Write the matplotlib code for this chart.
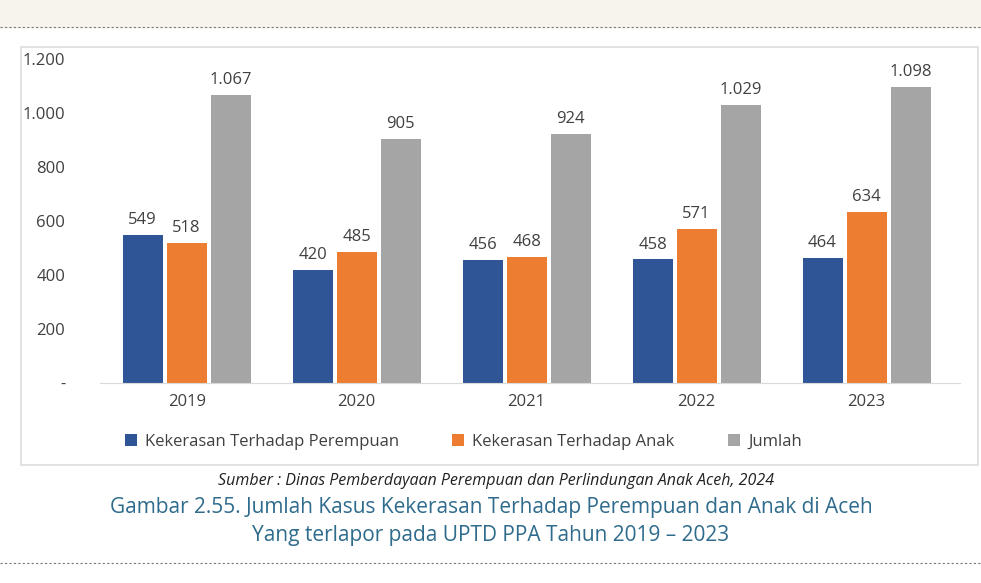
import matplotlib
matplotlib.use("Agg")
import matplotlib.pyplot as plt
from matplotlib.patches import Rectangle
from matplotlib.lines import Line2D

years = ["2019", "2020", "2021", "2022", "2023"]
perempuan = [549, 420, 456, 458, 464]
anak = [518, 485, 468, 571, 634]
jumlah = [1067, 905, 924, 1029, 1098]
series_names = ["Kekerasan Terhadap Perempuan", "Kekerasan Terhadap Anak", "Jumlah"]
colors = ["#2F5597", "#ED7D31", "#A5A5A5"]
yticks = [0, 200, 400, 600, 800, 1000, 1200]
ytick_labels = ["-", "200", "400", "600", "800", "1.000", "1.200"]

def fmt(v):
    return f"{v:,}".replace(",", ".")

plt.rcParams['font.family'] = ['Open Sans', 'DejaVu Sans']
W, H = 981, 583
fig = plt.figure(figsize=(W/100, H/100), dpi=100)
fig.patch.set_facecolor("white")
# cream band at top
fig.add_artist(Rectangle((0, 1-27/H), 1, 27/H, transform=fig.transFigure, color="#F7F4EE", zorder=0))
fig.add_artist(Line2D([0, 1], [1-27/H]*2, transform=fig.transFigure, color="#777777", lw=0.8, ls=(0, (2, 2))))
fig.add_artist(Line2D([0, 1], [1-563/H]*2, transform=fig.transFigure, color="#777777", lw=0.8, ls=(0, (2, 2))))
# chart box
fig.add_artist(Rectangle((21/W, 1-465/H), (978-21)/W, (465-47)/H, transform=fig.transFigure,
                         fill=False, ec="#DDDDDD", lw=1.2))

ax = fig.add_axes([100/W, 1-383/H, (960-100)/W, (383-59)/H])
ax.set_facecolor("none")
x = list(range(len(years)))
bw = 40/170
off = 44/170
for i, (vals, c) in enumerate(zip([perempuan, anak, jumlah], colors)):
    xs = [xi + (i-1)*off for xi in x]
    ax.bar(xs, vals, width=bw, color=c, label=series_names[i])
    for xx, v in zip(xs, vals):
        ax.text(xx, v + 25, fmt(v), ha="center", va="bottom", fontsize=12, color="#404040")
ax.set_ylim(0, 1200)
ax.set_xlim(-0.51, 4.55)
ax.set_yticks(yticks)
ax.set_yticklabels(ytick_labels, fontsize=12, color="#404040")
ax.set_xticks(x)
ax.set_xticklabels(years, fontsize=12, color="#404040")
ax.tick_params(length=0, pad=8)
ax.tick_params(axis="y", pad=25)
for s in ["top", "right", "left"]:
    ax.spines[s].set_visible(False)
ax.spines["bottom"].set_color("#D9D9D9")
ax.legend(loc="upper left", bbox_to_anchor=(10/860, -0.11), ncol=3, frameon=False,
          fontsize=12, handlelength=0.7, handleheight=0.7, columnspacing=3.2, handletextpad=0.5,
          labelcolor="#404040")

fig.text(496/W, 1-481/H, "Sumber : Dinas Pemberdayaan Perempuan dan Perlindungan Anak Aceh, 2024",
         ha="center", va="center", fontsize=11.5, style="italic", color="#222222")
fig.text(491/W, 1-507/H, "Gambar 2.55. Jumlah Kasus Kekerasan Terhadap Perempuan dan Anak di Aceh",
         ha="center", va="center", fontsize=15, color="#2E6B8C")
fig.text(491/W, 1-535/H, "Yang terlapor pada UPTD PPA Tahun 2019 – 2023",
         ha="center", va="center", fontsize=15, color="#2E6B8C")
fig.savefig("out.png", dpi=100)
